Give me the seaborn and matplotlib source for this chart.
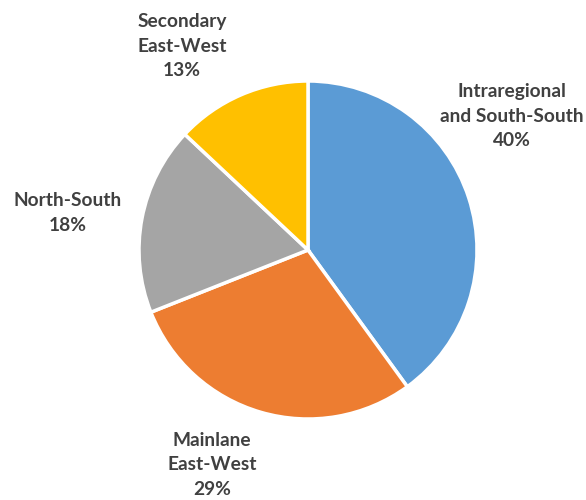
import matplotlib
matplotlib.use("Agg")
import matplotlib.pyplot as plt
import seaborn as sns

categories = ["Intraregional\nand South-South", "Mainlane\nEast-West", "North-South", "Secondary\nEast-West"]
shares = [40, 29, 18, 13]
colors = ["#5B9BD5", "#ED7D31", "#A5A5A5", "#FFC000"]
# label anchor points (pixel coordinates, origin bottom-left)
label_xy = [(512, 384), (212, 35), (68, 287), (182, 454)]

sns.set_theme(style="white")
plt.rcParams["font.family"] = ["Lato", "DejaVu Sans"]

fig = plt.figure(figsize=(5.86, 5.0), dpi=100)
ax = fig.add_axes([0, 0, 1, 1])

ax.pie(shares, colors=colors, startangle=90, counterclock=False,
       center=(308, 250), radius=169,
       wedgeprops=dict(edgecolor="white", linewidth=2.5))

ax.set_aspect("equal")
ax.set_xlim(0, 586)
ax.set_ylim(0, 500)
ax.axis("off")

for name, val, (x, y) in zip(categories, shares, label_xy):
    ax.text(x, y, f"{name}\n{val}%", ha="center", va="center",
            fontsize=13.8, fontweight="bold", color="#404040", linespacing=1.55)

fig.savefig("out.png", dpi=100)
